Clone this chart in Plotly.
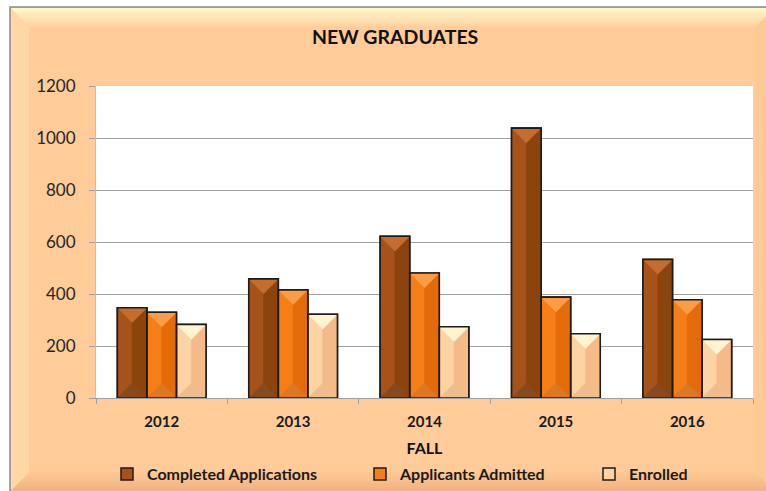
import plotly.graph_objects as go

# ---- data -------------------------------------------------------------
years = ["2012", "2013", "2014", "2015", "2016"]
completed = [347, 458, 622, 1038, 533]
admitted = [330, 416, 481, 388, 378]
enrolled = [283, 322, 274, 247, 225]

series_names = ["Completed Applications", "Applicants Admitted", "Enrolled"]
y_ticks = [0, 200, 400, 600, 800, 1000, 1200]

# ---- geometry / style ---------------------------------------------------
W, H = 766, 491
ML, MR, MT, MB = 96, 13, 86, 93
PW, PH = W - ML - MR, H - MT - MB
Y_MAX = 1200
BAR_W = 0.225  # width of one bar in category units

FONT = "Lato, 'Open Sans', sans-serif"
OUTLINE = "#1c1c1c"
PEACH = "#FFCB98"

# bevelled faces: top, left, right, bottom
faces = [
    dict(top="#C46D30", left="#A5531A", right="#8C440F", bottom="#874A1F"),
    dict(top="#FB9D47", left="#F67E17", right="#E36B0A", bottom="#DD7721"),
    dict(top="#FFF3D0", left="#FDD3A4", right="#F4BA88", bottom="#EDBD90"),
]
series_values = [completed, admitted, enrolled]
offsets = [-1.5 * BAR_W, -0.5 * BAR_W, 0.5 * BAR_W]
legend_ids = ["legend", "legend2", "legend3"]

x_idx = list(range(len(years)))

fig = go.Figure()
for name, vals, off, face, lg in zip(series_names, series_values, offsets, faces, legend_ids):
    fig.add_trace(go.Bar(
        x=x_idx, y=vals, name=name, width=BAR_W, offset=off,
        marker=dict(color=face["left"], line=dict(color=OUTLINE, width=1.5)),
        customdata=years, hovertemplate="%{customdata}: %{y}<extra>" + name + "</extra>",
        legend=lg,
    ))


def paper(xp, yp):
    """pixel position on the page -> paper coordinates"""
    return (xp - ML) / PW, (H - MB - yp) / PH


def ppath(points):
    pts = [paper(x, y) for x, y in points]
    return "M" + "L".join(f"{x:.5f},{y:.5f}" for x, y in pts) + "Z"


def mix(c1, c2, t):
    a = [int(c1[i:i + 2], 16) for i in (1, 3, 5)]
    b = [int(c2[i:i + 2], 16) for i in (1, 3, 5)]
    return "#" + "".join(f"{round(p + (q - p) * t):02X}" for p, q in zip(a, b))


shapes = []

# ---- chart frame with bevelled edges ----------------------------------
FX0, FY0, FX1, FY1, BV = 10, 7, 774, 491, 19
x0p, y0p = paper(FX0, FY0)
x1p, y1p = paper(FX1, FY1)
shapes.append(dict(type="rect", xref="paper", yref="paper", layer="below",
                   x0=x0p, y0=y1p, x1=x1p, y1=y0p, fillcolor=PEACH,
                   line=dict(color="#8C8C8C", width=1.5)))
# left and right bevels
shapes.append(dict(type="path", xref="paper", yref="paper", layer="below", line_width=0,
                   fillcolor="#FFD7A7",
                   path=ppath([(FX0 + 1, FY0 + 1), (FX0 + BV, FY0 + BV), (FX0 + BV, FY1 - BV), (FX0 + 1, FY1)])))
shapes.append(dict(type="path", xref="paper", yref="paper", layer="below", line_width=0,
                   fillcolor="#FDC995",
                   path=ppath([(FX1, FY0 + 1), (FX1 - BV, FY0 + BV), (FX1 - BV, FY1 - BV), (FX1, FY1)])))
# top bevel gradient
N = 10
for i in range(N):
    a = FY0 + 1 + (BV - 1) * i / N
    b = FY0 + 1 + (BV - 1) * (i + 1) / N
    col = mix("#FFF7CB", "#FFD6A3", i / (N - 1))
    shapes.append(dict(type="path", xref="paper", yref="paper", layer="below", line_width=0,
                       fillcolor=col,
                       path=ppath([(FX0 + 1 + (a - FY0 - 1), a), (FX1 - (a - FY0 - 1), a),
                                   (FX1 - (b - FY0 - 1) - 0.01, b + 0.4), (FX0 + 1 + (b - FY0 - 1), b + 0.4)])))
# bottom bevel gradient
for i in range(N):
    a = FY1 - BV + BV * i / N
    b = FY1 - BV + BV * (i + 1) / N
    col = mix("#FDC894", "#F3B383", i / (N - 1))
    shapes.append(dict(type="path", xref="paper", yref="paper", layer="below", line_width=0,
                       fillcolor=col,
                       path=ppath([(FX0 + 1 + (FY1 - a), a - 0.4), (FX1 - (FY1 - a), a - 0.4),
                                   (FX1 - (FY1 - b), b), (FX0 + 1 + (FY1 - b), b)])))

# white plot area on top of the frame
shapes.append(dict(type="rect", xref="paper", yref="paper", layer="below",
                   x0=0, x1=1, y0=0, y1=1, fillcolor="white", line_width=0))

# ---- bevelled bar faces, drawn on the data axes -------------------------
px_per_x = PW / len(years)
px_per_y = PH / Y_MAX
depth = (BAR_W / 2) * px_per_x / px_per_y  # 45-degree bevel in y units


def dpath(points):
    return "M" + "L".join(f"{x:.5f},{y:.3f}" for x, y in points) + "Z"


outlines = []
for vals, off, face in zip(series_values, offsets, faces):
    for xi, v in zip(x_idx, vals):
        xa, xb = xi + off, xi + off + BAR_W
        xc = (xa + xb) / 2
        polys = [
            ("left", [(xa, v), (xc, v - depth), (xc, depth), (xa, 0)]),
            ("right", [(xb, v), (xc, v - depth), (xc, depth), (xb, 0)]),
            ("top", [(xa, v), (xb, v), (xc, v - depth)]),
            ("bottom", [(xa, 0), (xb, 0), (xc, depth)]),
        ]
        for key, pts in polys:
            shapes.append(dict(type="path", xref="x", yref="y", layer="above",
                               path=dpath(pts), fillcolor=face[key],
                               line=dict(color=face[key], width=0.5)))
        outlines.append(dict(type="rect", xref="x", yref="y", layer="above",
                             x0=xa, x1=xb, y0=0, y1=v,
                             fillcolor="rgba(0,0,0,0)",
                             line=dict(color=OUTLINE, width=1.6)))
shapes.extend(outlines)

# ---- legends (one per series, spread along the bottom) ----------------
legend_text_px = [144, 397, 626]
legend_y = paper(0, 474)[1]
legend_style = dict(orientation="h", xanchor="left", yanchor="middle",
                    bgcolor="rgba(0,0,0,0)", borderwidth=0,
                    font=dict(family=FONT, size=16, color="#1a1a1a", weight="bold"))
legends = {}
for lg, tx in zip(legend_ids, legend_text_px):
    legends[lg] = dict(x=paper(tx - 37, 0)[0], y=legend_y, **legend_style)

title_x, title_y = paper(395, 37)

fig.update_layout(
    width=W, height=H,
    margin=dict(l=ML, r=MR, t=MT, b=MB, autoexpand=False),
    paper_bgcolor="white", plot_bgcolor="white",
    barmode="overlay",
    showlegend=True,
    shapes=shapes,
    annotations=[dict(text="NEW GRADUATES", xref="paper", yref="paper",
                      x=title_x, y=title_y, xanchor="center", yanchor="middle",
                      showarrow=False,
                      font=dict(family=FONT, size=19.5, color="#111111", weight="bold"))],
    xaxis=dict(
        range=[-0.5, len(years) - 0.5],
        tickvals=x_idx, ticktext=years, ticks="",
        tickfont=dict(family=FONT, size=15, color="#1a1a1a", weight="bold"),
        ticklabelstandoff=10,
        showgrid=False, zeroline=False,
        showline=True, linecolor="#A0A0A0", linewidth=1,
        minor=dict(tickvals=[i - 0.5 for i in range(len(years) + 1)],
                   ticks="outside", ticklen=5, tickcolor="#A0A0A0", showgrid=False),
        title=dict(text="FALL", standoff=13,
                   font=dict(family=FONT, size=16, color="#111111", weight="bold")),
        fixedrange=True,
    ),
    yaxis=dict(
        range=[0, Y_MAX], tickvals=y_ticks,
        tickfont=dict(family=FONT, size=17, color="#262626"),
        ticks="outside", ticklen=6, tickcolor="#A0A0A0",
        ticklabelstandoff=10,
        showgrid=True, gridcolor="#A0A0A0", gridwidth=1,
        zeroline=False, showline=True, linecolor="#BFBFBF", linewidth=1,
        fixedrange=True,
    ),
    **legends,
)

fig.write_html("out.html", config={"displayModeBar": False})
